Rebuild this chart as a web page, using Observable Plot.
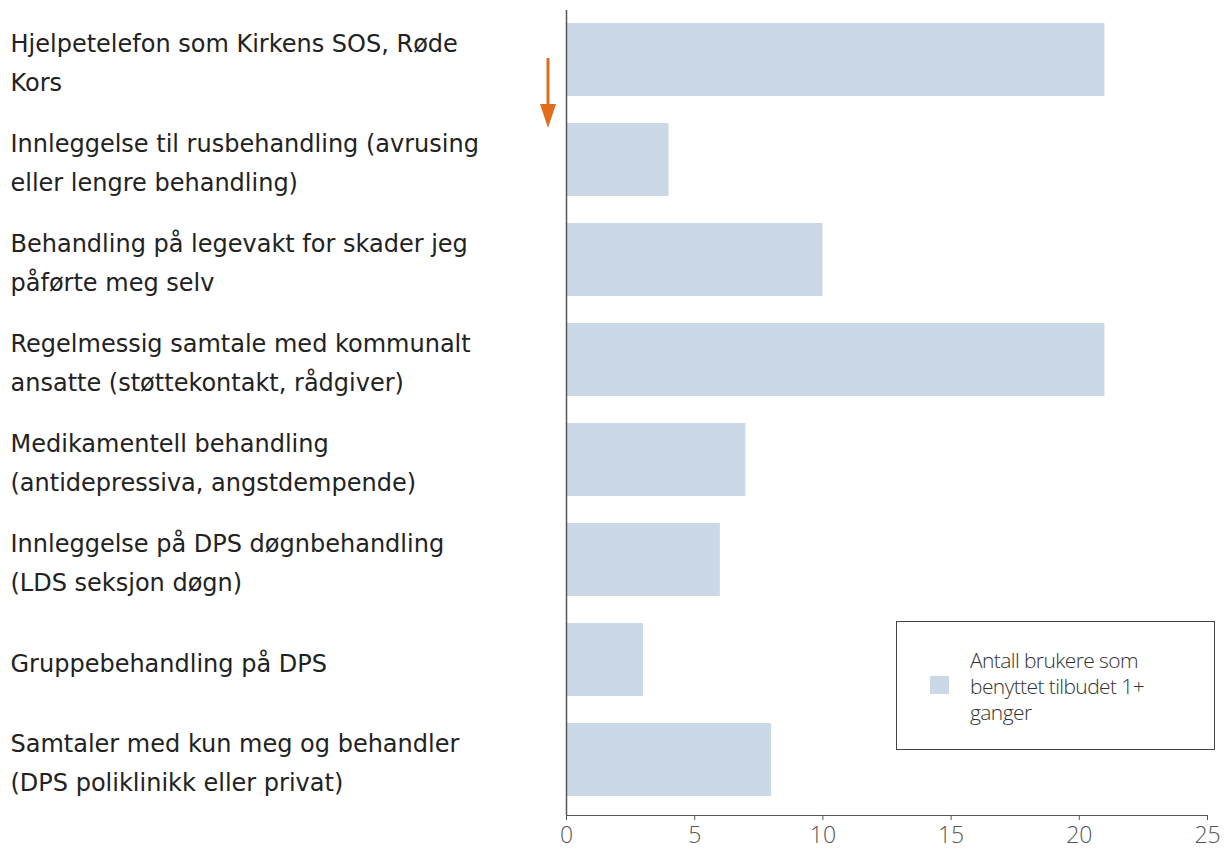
<!DOCTYPE html>
<html>
<head>
<meta charset="utf-8">
<script src="https://cdn.jsdelivr.net/npm/d3@7"></script>
<script src="https://cdn.jsdelivr.net/npm/@observablehq/plot@0.6"></script>
<style>
  html, body { margin: 0; padding: 0; background: #fff; }
  #wrap { position: relative; width: 1231px; height: 850px; font-family: "Open Sans", sans-serif; }
  #legend { position: absolute; left: 896px; top: 621px; width: 317px; height: 127px; border: 1.5px solid #444; box-sizing: content-box; }
  #legend .sw { position: absolute; left: 33px; top: 54px; width: 19px; height: 18px; background: #cbd9e6; }
  #legend .tx { position: absolute; left: 73px; top: 25px; font-size: 21px; line-height: 26px; color: #333; font-weight: 300; letter-spacing: -0.6px; }
  #arrow { position: absolute; left: 0; top: 0; pointer-events: none; }
</style>
</head>
<body>
<div id="wrap">
  <div id="chart"></div>
  <svg id="arrow" width="1231" height="850">
    <line x1="548" y1="58" x2="548" y2="110" stroke="#e06c1c" stroke-width="3"></line>
    <polygon points="540,104 556,104 548,128" fill="#e06c1c"></polygon>
  </svg>
  <div id="legend">
    <div class="sw"></div>
    <div class="tx">Antall brukere som<br>benyttet tilbudet 1+<br>ganger</div>
  </div>
</div>
<script>
const categories = [
  "Hjelpetelefon som Kirkens SOS, Røde Kors",
  "Innleggelse til rusbehandling (avrusing eller lengre behandling)",
  "Behandling på legevakt for skader jeg påførte meg selv",
  "Regelmessig samtale med kommunalt ansatte (støttekontakt, rådgiver)",
  "Medikamentell behandling (antidepressiva, angstdempende)",
  "Innleggelse på DPS døgnbehandling (LDS seksjon døgn)",
  "Gruppebehandling på DPS",
  "Samtaler med kun meg og behandler (DPS poliklinikk eller privat)"
];
const labels = [
  "Hjelpetelefon som Kirkens SOS, Røde\nKors",
  "Innleggelse til rusbehandling (avrusing\neller lengre behandling)",
  "Behandling på legevakt for skader jeg\npåførte meg selv",
  "Regelmessig samtale med kommunalt\nansatte (støttekontakt, rådgiver)",
  "Medikamentell behandling\n(antidepressiva, angstdempende)",
  "Innleggelse på DPS døgnbehandling\n(LDS seksjon døgn)",
  "Gruppebehandling på DPS",
  "Samtaler med kun meg og behandler\n(DPS poliklinikk eller privat)"
];
const values = [21, 4, 10, 21, 7, 6, 3, 8];
const xTicks = [0, 5, 10, 15, 20, 25];

const data = categories.map((c, i) => ({category: c, label: labels[i], value: values[i]}));

const chart = Plot.plot({
  width: 1231,
  height: 850,
  marginLeft: 566,
  marginRight: 24,
  marginTop: 10,
  marginBottom: 35,
  style: {fontFamily: "Open Sans, sans-serif", fontSize: "23px", fontWeight: 300, color: "#555", background: "transparent"},
  x: {domain: [0, 25], ticks: xTicks, line: true, tickSize: 5, tickPadding: 6, label: null},
  y: {domain: categories, range: [4, 815], paddingInner: 0.275, paddingOuter: 0.17, axis: null},
  marks: [
    Plot.barX(data, {y: "category", x: "value", fill: "#cbd9e6"}),
    Plot.ruleX([0], {stroke: "#555", strokeWidth: 1.5}),
    Plot.text(data, {y: "category", text: "label", frameAnchor: "left", dx: -556, dy: -1, textAnchor: "start", lineHeight: 1.63, fontSize: 24, fontFamily: "DejaVu Sans, sans-serif", fontWeight: 400, fill: "#222"})
  ]
});
document.getElementById("chart").appendChild(chart);
</script>
</body>
</html>
